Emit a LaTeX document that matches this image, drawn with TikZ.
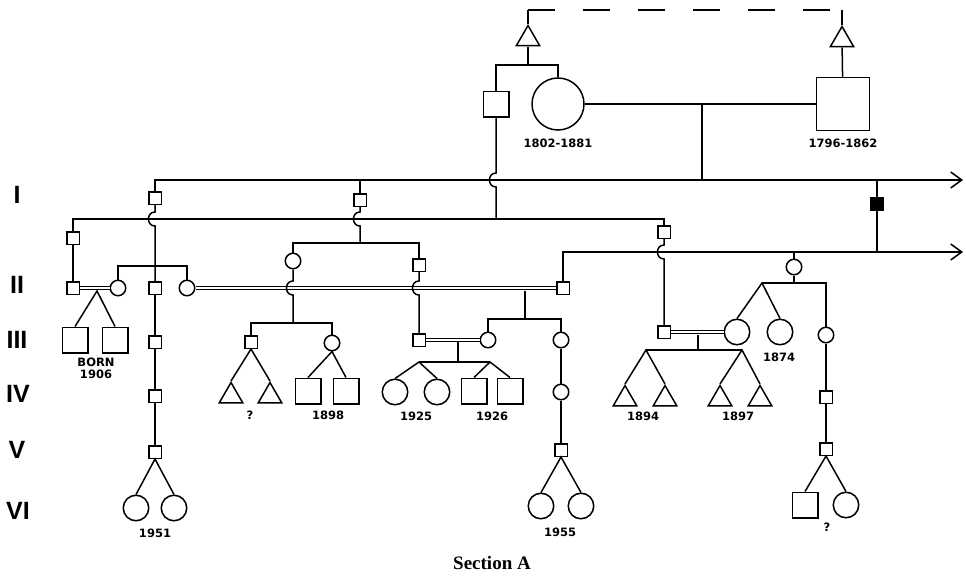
\documentclass[tikz,border=0pt]{standalone}
\usepackage{fontspec}
\newfontfamily\dejavu{DejaVu Sans}
\newfontfamily\libsans{Liberation Sans}
\newfontfamily\libserif{Liberation Serif}
\usetikzlibrary{shapes.geometric, arrows.meta, positioning}

\begin{document}
\begin{tikzpicture}[x=1pt, y=-1pt, line width=1.5pt,
    sq/.style={rectangle, draw, minimum size=12.5pt, inner sep=0pt},
    bsq/.style={rectangle, draw, minimum size=25.5pt, inner sep=0pt},
    ci/.style={circle, draw, minimum size=15.5pt, inner sep=0pt},
    bci/.style={circle, draw, minimum size=25.5pt, inner sep=0pt},
    tri/.style={regular polygon, regular polygon sides=3, draw,
                minimum size=27pt, inner sep=0pt},
    marr/.style={double, double distance=2.2pt, line width=1.1pt},
    arr/.style={-{Straight Barb[length=11pt, width=16pt]}},
    hop/.style={out=180, in=180, looseness=1.6},
    lbl/.style={font=\dejavu\bfseries\fontsize{11.5pt}{12pt}\selectfont,
                inner sep=0pt, align=center},
    gen/.style={font=\libsans\bfseries\fontsize{25pt}{25pt}\selectfont, inner sep=0pt}
]
    \useasboundingbox (0,0) rectangle (966,586);

    % generation labels
    \node[gen] (gI) at (17,195) {I};
    \node[gen] (gII) at (17,285) {II};
    \node[gen] (gIII) at (17,340) {III};
    \node[gen] (gIV) at (18,394) {IV};
    \node[gen] (gV) at (17,450) {V};
    \node[gen] (gVI) at (18,511) {VI};

    % ancestors
    \node[tri] (tL) at (528,39) {};
    \node[tri] (tR) at (842,40) {};
    \coordinate (dL) at (528,10);
    \coordinate (dR) at (842,10);
    \draw (tL) -- (dL);
    \draw[dash pattern=on 27pt off 28pt] (dL) -- (dR);
    \draw (dR) -- (tR);

    \node[bsq] (sqA) at (496,104) {};
    \node[circle, draw, minimum size=52pt, inner sep=0pt] (ciA) at (558,104) {};
    \node[rectangle, draw, minimum size=53pt, inner sep=0pt] (sqB) at (843,104) {};
    \node[lbl, below=7pt of ciA] (dA) {1802-1881};
    \node[lbl, below=7pt of sqB] (dB) {1796-1862};
    \coordinate (s0) at (528,65);
    \draw (sqA) |- (s0) -| (ciA);
    \draw (tL) -- (s0);
    \draw (tR) -- (sqB);
    \draw (ciA) -- (sqB);

    % generation I lines
    \coordinate (m0) at (702,104);
    \coordinate (m1) at (702,180);
    \draw (m0) -- (m1);
    \node[sq] (sq1a) at (155,198) {};
    \coordinate (l1e) at (963,180);
    \draw[arr] (sq1a) |- (l1e);
    \node[sq] (sq1b) at (360,200) {};
    \coordinate (l1b) at (360,180);
    \draw (l1b) -- (sq1b);
    \node[sq, fill=black] (sq1c) at (877,204) {};
    \coordinate (b1) at (877,180);
    \coordinate (b2) at (877,252);
    \draw (b1) -- (sq1c) -- (b2);

    \node[sq] (sq1d) at (73,238) {};
    \node[sq] (sq1e) at (664,232) {};
    \coordinate (l2b) at (664,219);
    \draw (sq1d) |- (l2b) -- (sq1e);
    \coordinate (h0) at (496,180);
    \coordinate (j0) at (496,219);
    \draw (sqA) -- ([yshift=7pt]h0) to[hop] ([yshift=-7pt]h0) -- (j0);

    % generation II
    \coordinate (h1) at (155,219);
    \coordinate (s1) at (155,266);
    \node[ci] (ci2a) at (118,288) {};
    \node[sq] (sq2a) at (155,288) {};
    \node[ci] (ci2b) at (187,288) {};
    \draw (sq1a) -- ([yshift=7pt]h1) to[hop] ([yshift=-7pt]h1) -- (sq2a);
    \draw (ci2a) |- (s1) -| (ci2b);

    \coordinate (h2) at (360,219);
    \coordinate (s2) at (360,243);
    \node[ci] (ci2d) at (293,261) {};
    \node[sq] (sq2d) at (419,265) {};
    \draw (sq1b) -- ([yshift=7pt]h2) to[hop] ([yshift=-7pt]h2) -- (s2);
    \draw (ci2d) |- (s2) -| (sq2d);

    \node[sq] (sq2r) at (563,288) {};
    \coordinate (l2e) at (963,252);
    \draw[arr] (sq2r) |- (l2e);
    \node[ci] (ci2c) at (794,267) {};
    \coordinate (l2c) at (794,252);
    \draw (l2c) -- (ci2c);

    \node[sq] (sq2b) at (73,288) {};
    \draw (sq1d) -- (sq2b);
    \node[bsq] (bsq3a) at (75,340) {};
    \node[bsq] (bsq3b) at (115,340) {};
    \coordinate (t1) at (97,291);
    \draw (bsq3a.north) -- (t1) -- (bsq3b.north);
    \draw[marr] (sq2b) -- (ci2a);
    \node[lbl] (born) at (96,368) {BORN\\1906};

    \draw[marr] (ci2b) -- (sq2r);

    % generation III
    \coordinate (h3) at (293,288);
    \coordinate (s3) at (293,323);
    \node[sq] (sq3a) at (251,342) {};
    \node[ci] (ci3a) at (332,343) {};
    \draw (ci2d) -- ([yshift=7pt]h3) to[hop] ([yshift=-7pt]h3) -- (s3);
    \draw (sq3a) |- (s3) -| (ci3a);

    \coordinate (h4) at (419,288);
    \node[sq] (sq3b) at (419,340) {};
    \draw (sq2d) -- ([yshift=7pt]h4) to[hop] ([yshift=-7pt]h4) -- (sq3b);

    \coordinate (t2) at (525,291);
    \coordinate (s4) at (525,319);
    \node[ci] (ci3b) at (488,340) {};
    \node[ci] (ci3c) at (561,340) {};
    \draw (t2) -- (s4);
    \draw (ci3b) |- (s4) -| (ci3c);
    \draw[marr] (sq3b) -- (ci3b);

    \coordinate (h5) at (664,252);
    \node[sq] (sq3e) at (664,332) {};
    \draw (sq1e) -- ([yshift=7pt]h5) to[hop] ([yshift=-7pt]h5) -- (sq3e);
    \node[bci] (bci3e) at (737,332) {};
    \draw[marr] (sq3e) -- (bci3e);

    \coordinate (s7) at (794,283);
    \coordinate (f5) at (762,283);
    \node[bci] (bci3f) at (780,332) {};
    \node[ci] (ci3g) at (826,335) {};
    \draw (ci2c) -- (s7);
    \draw (f5) -| (ci3g);
    \draw (bci3e.north) -- (f5) -- (bci3f.north);
    \node[lbl] (l1874) at (779,357) {1874};

    % generation IV
    \node[tri] (tri4a) at (231,396) {};
    \node[tri] (tri4b) at (270,396) {};
    \draw (tri4a.north) -- (sq3a.south) -- (tri4b.north);
    \node[lbl] (lq1) at (250,415) {?};

    \node[bsq] (bsq4a) at (308,391) {};
    \node[bsq] (bsq4b) at (346,391) {};
    \draw (bsq4a.north) -- (ci3a.south) -- (bsq4b.north);
    \node[lbl] (l1898) at (328,415) {1898};

    \coordinate (t3) at (458,342);
    \coordinate (s5) at (458,362);
    \coordinate (f1) at (419,362);
    \coordinate (f2) at (490,362);
    \draw (t3) -- (s5);
    \draw (f1) -- (f2);
    \node[bci] (bci4a) at (395,392) {};
    \node[bci] (bci4b) at (437,392) {};
    \node[bsq] (bsq4c) at (474,391) {};
    \node[bsq] (bsq4d) at (510,391) {};
    \draw (bci4a.north) -- (f1) -- (bci4b.north);
    \draw (bsq4c.north) -- (f2) -- (bsq4d.north);
    \node[lbl] (l1925) at (416,416) {1925};
    \node[lbl] (l1926) at (492,416) {1926};

    \coordinate (t4) at (698,335);
    \coordinate (s6) at (698,350);
    \coordinate (f3) at (646,350);
    \coordinate (f4) at (742,350);
    \draw (t4) -- (s6);
    \draw (f3) -- (f4);
    \node[tri] (tri4c) at (625,399) {};
    \node[tri] (tri4d) at (665,399) {};
    \node[tri] (tri4e) at (720,399) {};
    \node[tri] (tri4f) at (760,399) {};
    \draw (tri4c.north) -- (f3) -- (tri4d.north);
    \draw (tri4e.north) -- (f4) -- (tri4f.north);
    \node[lbl] (l1894) at (643,416) {1894};
    \node[lbl] (l1897) at (738,416) {1897};

    % lines down to generation VI
    \node[sq] (sq3x) at (155,342) {};
    \node[sq] (sq4x) at (155,396) {};
    \node[sq] (sq5x) at (155,452) {};
    \node[bci] (bci6c) at (136,508) {};
    \node[bci] (bci6d) at (174,508) {};
    \draw (sq2a) -- (sq3x) -- (sq4x) -- (sq5x);
    \draw (bci6c.north) -- (sq5x.south) -- (bci6d.north);
    \node[lbl] (l1951) at (155,533) {1951};

    \node[ci] (ci4c) at (561,392) {};
    \node[sq] (sq5c) at (561,450) {};
    \node[bci] (bci6a) at (541,506) {};
    \node[bci] (bci6b) at (581,506) {};
    \draw (ci3c) -- (ci4c) -- (sq5c);
    \draw (bci6a.north) -- (sq5c.south) -- (bci6b.north);
    \node[lbl] (l1955) at (560,532) {1955};

    \node[sq] (sq4g) at (826,397) {};
    \node[sq] (sq5g) at (826,449) {};
    \node[bsq] (bsq6g) at (805,505) {};
    \node[bci] (bci6g) at (846,505) {};
    \draw (ci3g) -- (sq4g) -- (sq5g);
    \draw (bsq6g.north) -- (sq5g.south) -- (bci6g.north);
    \node[lbl] (lq2) at (827,527) {?};

    \node[font=\libserif\bfseries\fontsize{19pt}{19pt}\selectfont] (cap) at (492,563) {Section A};
\end{tikzpicture}
\end{document}
